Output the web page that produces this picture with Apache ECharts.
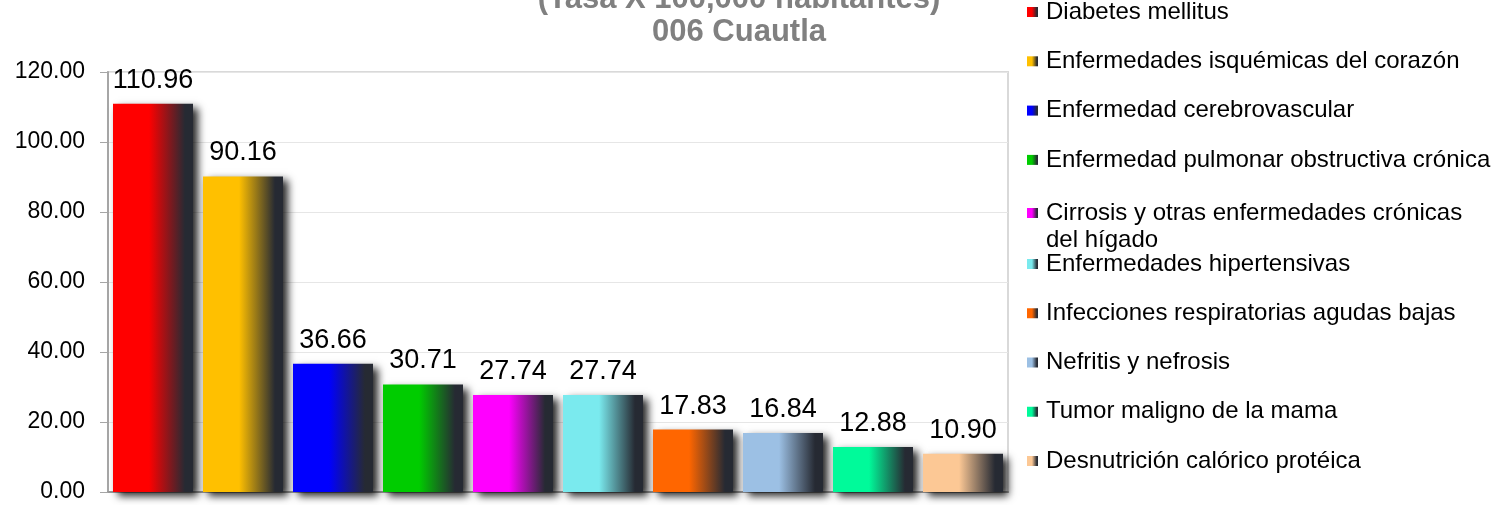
<!DOCTYPE html>
<html>
<head>
<meta charset="utf-8">
<script src="https://cdn.jsdelivr.net/npm/echarts@6/dist/echarts.min.js"></script>
<style>
  html, body { margin: 0; padding: 0; background: #ffffff; }
  #chart { width: 1497px; height: 505px; }
</style>
</head>
<body>
<div id="chart"></div>
<script>
// ---- Data ----
const categories = [
  'Diabetes mellitus',
  'Enfermedades isquémicas del corazón',
  'Enfermedad cerebrovascular',
  'Enfermedad pulmonar obstructiva crónica',
  'Cirrosis y otras enfermedades crónicas del hígado',
  'Enfermedades hipertensivas',
  'Infecciones respiratorias agudas bajas',
  'Nefritis y nefrosis',
  'Tumor maligno de la mama',
  'Desnutrición calórico protéica'
];
const values = [110.96, 90.16, 36.66, 30.71, 27.74, 27.74, 17.83, 16.84, 12.88, 10.90];
const colors = ['#FF0000', '#FFC000', '#0000FF', '#00CC00', '#FF00FF', '#7AEAEE', '#FF6600', '#9CC0E4', '#00FA9A', '#FCC895'];
const yTicks = [0, 20, 40, 60, 80, 100, 120];
const titleLines = ['(Tasa X 100,000 habitantes)', '006 Cuautla'];

// ---- Chart ----
const chart = echarts.init(document.getElementById('chart'), null, { renderer: 'canvas' });
const FONT = '"Liberation Sans", Arial, sans-serif';
const DARK = '#262a33';

function grad(c) {
  return new echarts.graphic.LinearGradient(0, 0, 1, 0, [
    { offset: 0, color: c },
    { offset: 0.45, color: c },
    { offset: 0.9, color: DARK },
    { offset: 1, color: DARK }
  ]);
}

const series = categories.map((name, i) => ({
  name: name,
  type: 'bar',
  data: [values[i]],
  barWidth: 80,
  barGap: '12.5%',
  itemStyle: {
    color: grad(colors[i]),
    shadowColor: 'rgba(0,0,0,0.85)',
    shadowBlur: 8,
    shadowOffsetX: 5,
    shadowOffsetY: 4
  },
  label: {
    show: true,
    position: 'top',
    distance: 10,
    color: '#000',
    fontFamily: FONT,
    fontSize: 27,
    formatter: p => Number(p.value).toFixed(2)
  },
  emphasis: { disabled: true },
  animation: false
}));

const legendBase = {
  orient: 'vertical',
  left: 1027,
  padding: 0,
  icon: 'rect',
  itemWidth: 11,
  itemHeight: 10,
  selectedMode: false,
  itemStyle: { shadowBlur: 0 },
  textStyle: {
    fontFamily: FONT,
    fontSize: 24,
    color: '#000',
    lineHeight: 27,
    padding: [0, 0, 0, 3]
  }
};

const option = {
  backgroundColor: '#ffffff',
  animation: false,
  grid: {
    left: 108,
    right: 489,
    top: 72,
    bottom: 13,
    show: true,
    borderColor: '#d9d9d9',
    borderWidth: 2,
    backgroundColor: 'transparent'
  },
  legend: [
    Object.assign({}, legendBase, {
      top: -1.5,
      itemGap: 22.3,
      data: categories.slice(0, 4)
    }),
    Object.assign({}, legendBase, {
      top: 172.5,
      data: categories.slice(4, 5),
      formatter: n => '\n' + n.replace(' del hígado', '\ndel hígado')
    }),
    Object.assign({}, legendBase, {
      top: 250.5,
      itemGap: 22.25,
      data: categories.slice(5)
    })
  ],
  xAxis: {
    type: 'category',
    data: [''],
    axisLine: { show: true, lineStyle: { color: '#9a9a9a', width: 2 } },
    axisTick: { show: false },
    axisLabel: { show: false },
    splitLine: { show: false }
  },
  yAxis: {
    type: 'value',
    min: yTicks[0],
    max: yTicks[yTicks.length - 1],
    interval: yTicks[1] - yTicks[0],
    axisLine: { show: true, lineStyle: { color: '#a6a6a6', width: 2 } },
    axisTick: { show: true, length: 8, lineStyle: { color: '#a6a6a6', width: 1 } },
    axisLabel: {
      margin: 23,
      color: '#000',
      fontFamily: FONT,
      fontSize: 23,
      formatter: v => Number(v).toFixed(2)
    },
    splitLine: { show: true, lineStyle: { color: '#e6e6e6', width: 1 } }
  },
  graphic: [{
    type: 'text',
    x: 739,
    y: -17,
    silent: true,
    style: {
      text: titleLines.join('\n'),
      align: 'center',
      verticalAlign: 'top',
      fill: '#808080',
      fontFamily: FONT,
      fontWeight: 'bold',
      fontSize: 31,
      lineHeight: 33
    }
  }],
  series: series
};

chart.setOption(option);
</script>
</body>
</html>
